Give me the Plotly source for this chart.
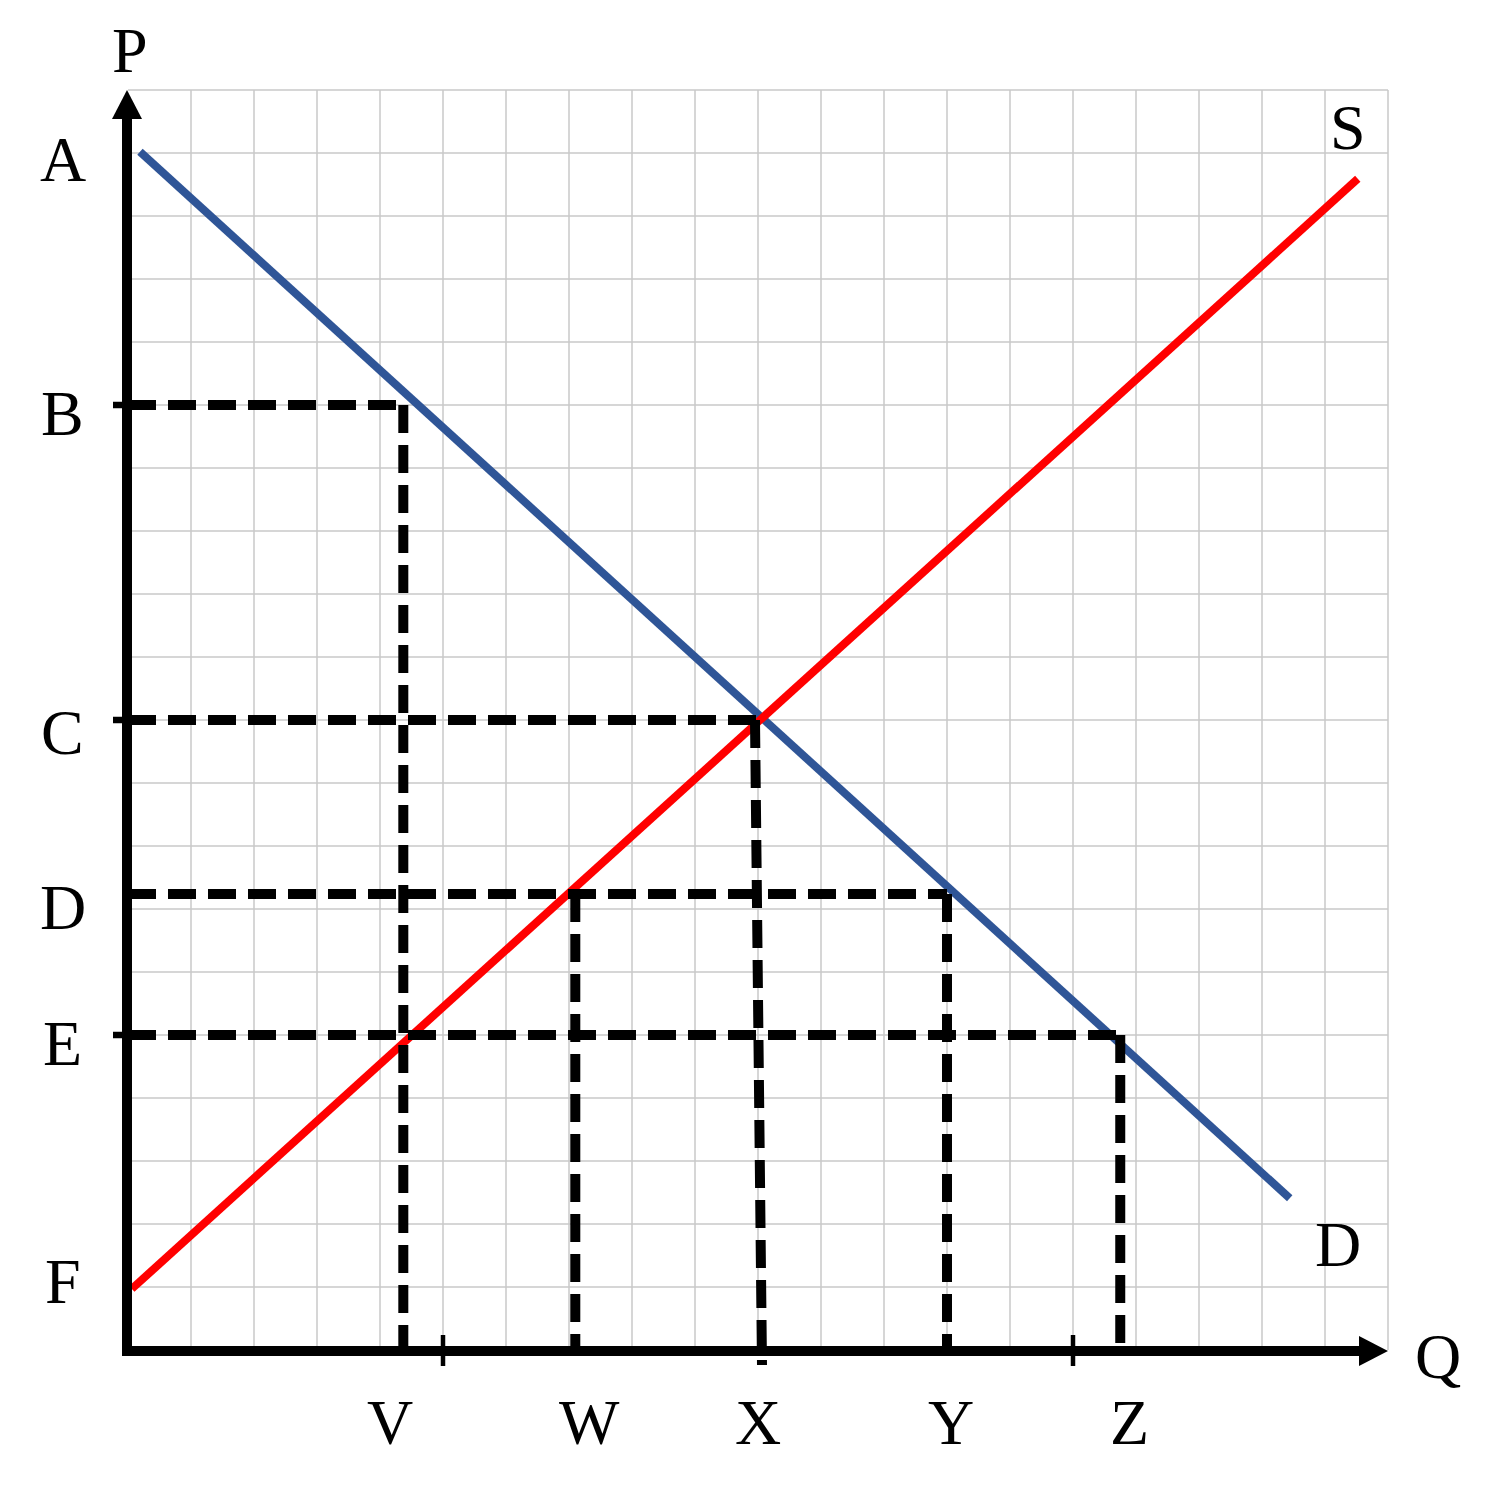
import plotly.graph_objects as go

# ---------------- data ----------------
price_labels = ["A", "B", "C", "D", "E", "F"]
price_levels = [19.0, 15.0, 10.0, 7.24, 5.0, 1.0]
quantity_labels = ["V", "W", "X", "Y", "Z"]
quantity_levels = [4.37, 7.1, 10.0, 13.0, 15.75]

demand_q = [0.19, 18.44]
demand_p = [19.02, 2.41]
supply_q = [0.06, 19.52]
supply_p = [0.97, 18.59]

grid_max = 20
axis_tick_q = [5, 15]
axis_tick_p = [15.0, 10.0, 5.0]

# ---------------- layout helpers ----------------
W, H = 1494, 1500
ORIGIN_PX = (128, 1350)
UNIT = 63.0
xr = [-ORIGIN_PX[0] / UNIT, (W - ORIGIN_PX[0]) / UNIT]
yr = [-(H - ORIGIN_PX[1]) / UNIT, ORIGIN_PX[1] / UNIT]
u = 1.0 / UNIT  # one pixel in data units

FONT = dict(family="Liberation Serif, Times New Roman, serif", size=64, color="black")

fig = go.Figure()

# grid
gx, gy = [], []
for i in range(1, grid_max + 1):
    gx += [i, i, None]
    gy += [0, grid_max, None]
    gx += [0, grid_max, None]
    gy += [i, i, None]
fig.add_trace(go.Scatter(x=gx, y=gy, mode="lines",
                         line=dict(color="#c8c8c8", width=1.5), hoverinfo="skip"))

# demand & supply
fig.add_trace(go.Scatter(x=demand_q, y=demand_p, mode="lines",
                         line=dict(color="#2f5597", width=8), hoverinfo="skip"))
fig.add_trace(go.Scatter(x=supply_q, y=supply_p, mode="lines",
                         line=dict(color="#ff0000", width=8), hoverinfo="skip"))

# dashed guides
P = dict(zip(price_labels, price_levels))
Q = dict(zip(quantity_labels, quantity_levels))
horiz = [("B", "V"), ("C", "X"), ("D", "Y"), ("E", "Z")]
vert = [("V", "B"), ("W", "D"), ("Y", "D"), ("Z", "E")]
dx, dy = [], []
for p, q in horiz:
    dx += [0, Q[q], None]
    dy += [P[p], P[p], None]
for q, p in vert:
    dx += [Q[q], Q[q], None]
    dy += [P[p], 0, None]
# X guide (slightly slanted, runs a bit below the axis)
dx += [Q["X"] - 3 * u, Q["X"] + 4 * u, None]
dy += [P["C"], -15 * u, None]
fig.add_trace(go.Scatter(x=dx, y=dy, mode="lines",
                         line=dict(color="black", width=10, dash="28px,12px"),
                         hoverinfo="skip"))

# ticks
tx, ty = [], []
for q in axis_tick_q:
    tx += [q, q, None]
    ty += [-16 * u, 15 * u, None]
fig.add_trace(go.Scatter(x=tx, y=ty, mode="lines",
                         line=dict(color="black", width=4.5), hoverinfo="skip"))
tx, ty = [], []
for p in axis_tick_p:
    tx += [-15 * u, 0, None]
    ty += [p, p, None]
fig.add_trace(go.Scatter(x=tx, y=ty, mode="lines",
                         line=dict(color="black", width=6.5), hoverinfo="skip"))

# axes with arrowheads
ax_off = -1 * u
head_len = 29 * u
head_half = 15 * u
fig.add_trace(go.Scatter(x=[ax_off, ax_off], y=[-6 * u, grid_max - head_len + 2 * u], mode="lines",
                         line=dict(color="black", width=10), hoverinfo="skip"))
fig.add_trace(go.Scatter(x=[-5 * u, grid_max - head_len + 2 * u], y=[ax_off, ax_off], mode="lines",
                         line=dict(color="black", width=10), hoverinfo="skip"))
fig.add_trace(go.Scatter(x=[ax_off - head_half, ax_off + head_half, ax_off, ax_off - head_half],
                         y=[grid_max - head_len, grid_max - head_len, grid_max, grid_max - head_len],
                         mode="lines", fill="toself", fillcolor="black",
                         line=dict(color="black", width=0), hoverinfo="skip"))
fig.add_trace(go.Scatter(y=[ax_off - head_half, ax_off + head_half, ax_off, ax_off - head_half],
                         x=[grid_max - head_len, grid_max - head_len, grid_max, grid_max - head_len],
                         mode="lines", fill="toself", fillcolor="black",
                         line=dict(color="black", width=0), hoverinfo="skip"))

# labels
price_dy = [-0.11, -0.13, -0.2, -0.22, -0.14, 0.08]
for lab, lvl, d in zip(price_labels, price_levels, price_dy):
    fig.add_annotation(x=-1.035, y=lvl + d, text=lab, showarrow=False,
                       xanchor="center", yanchor="middle", font=FONT)
qty_dx = [-0.21, 0.23, 0.0, 0.06, 0.15]
for lab, lvl, d in zip(quantity_labels, quantity_levels, qty_dx):
    fig.add_annotation(x=lvl + d, y=-1.143, text=lab, showarrow=False,
                       xanchor="center", yanchor="middle", font=FONT)
fig.add_annotation(x=0.032, y=20.62, text="P", showarrow=False,
                   xanchor="center", yanchor="middle", font=FONT)
fig.add_annotation(x=20.79, y=-0.1, text="Q", showarrow=False,
                   xanchor="center", yanchor="middle", font=FONT)
fig.add_annotation(x=19.365, y=19.41, text="S", showarrow=False,
                   xanchor="center", yanchor="middle", font=FONT)
fig.add_annotation(x=19.2, y=1.68, text="D", showarrow=False,
                   xanchor="center", yanchor="middle", font=FONT)

fig.update_layout(
    width=W, height=H,
    margin=dict(l=0, r=0, t=0, b=0),
    paper_bgcolor="white", plot_bgcolor="white",
    showlegend=False,
    xaxis=dict(range=xr, visible=False, fixedrange=True),
    yaxis=dict(range=yr, visible=False, fixedrange=True),
)

fig.write_html("out.html", config={"displayModeBar": False},
               post_script="document.body.style.margin='0';")
